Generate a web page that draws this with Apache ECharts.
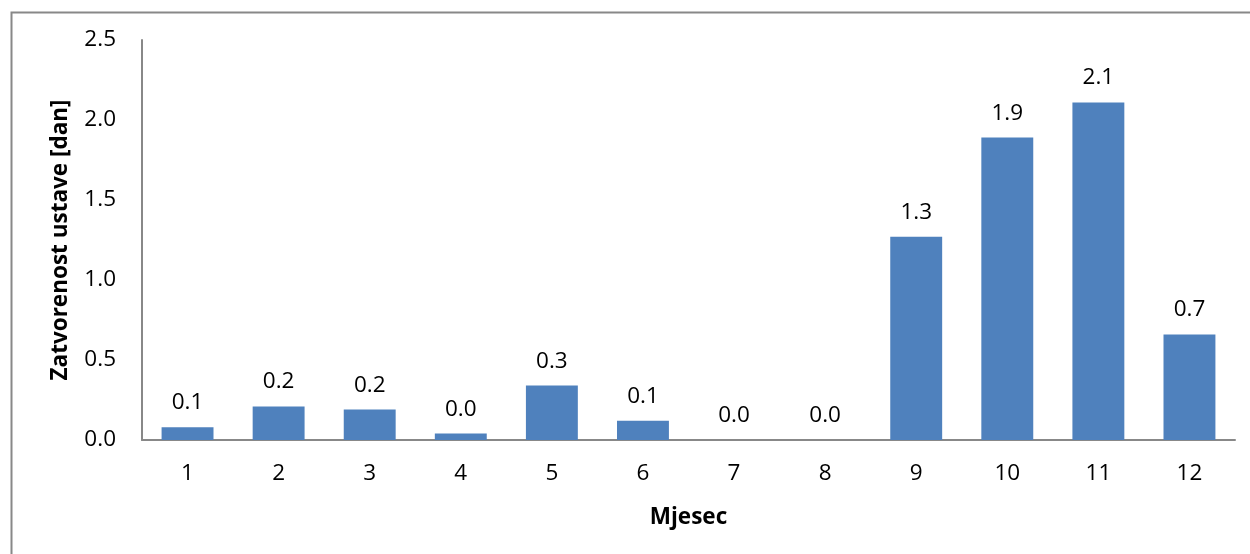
<!DOCTYPE html>
<html>
<head>
<meta charset="utf-8">
<script src="https://cdn.jsdelivr.net/npm/echarts@6/dist/echarts.min.js"></script>
<style>html,body{margin:0;padding:0;background:#fff}#c{width:1250px;height:554px}</style>
</head>
<body>
<div id="c"></div>
<script>
const months = ['1','2','3','4','5','6','7','8','9','10','11','12'];
const closedDays = [0.08, 0.21, 0.19, 0.04, 0.34, 0.12, 0, 0, 1.27, 1.89, 2.11, 0.66];
const yAxisTitle = 'Zatvorenost ustave [dan]';
const xAxisTitle = 'Mjesec';

const FONT = 'Open Sans';
const FS = 22.5;
const chart = echarts.init(document.getElementById('c'), null, {renderer: 'canvas'});
chart.setOption({
  animation: false,
  backgroundColor: '#ffffff',
  graphic: [{
    type: 'rect', left: 9, top: 10, z: -1,
    shape: {width: 1300, height: 600},
    style: {fill: 'none', stroke: '#888888', lineWidth: 2}
  }],
  grid: {left: 142, top: 40, right: 15, bottom: 114},
  xAxis: {
    type: 'category',
    data: months,
    name: xAxisTitle,
    nameLocation: 'middle',
    nameGap: 66,
    nameTextStyle: {fontFamily: FONT, fontSize: FS, fontWeight: 'bold', color: '#000'},
    axisLine: {lineStyle: {color: '#888888', width: 2}},
    axisTick: {show: false},
    axisLabel: {fontFamily: FONT, fontSize: FS, color: '#000', margin: 22}
  },
  yAxis: {
    type: 'value',
    min: 0, max: 2.5, interval: 0.5,
    name: yAxisTitle,
    nameLocation: 'middle',
    nameGap: 70,
    nameRotate: 90,
    nameTextStyle: {fontFamily: FONT, fontSize: FS, fontWeight: 'bold', color: '#000'},
    axisLine: {show: true, lineStyle: {color: '#888888', width: 2}},
    axisTick: {show: false},
    splitLine: {show: false},
    axisLabel: {fontFamily: FONT, fontSize: FS, color: '#000', margin: 26,
      formatter: v => v.toFixed(1)}
  },
  series: [{
    type: 'bar',
    data: closedDays,
    barCategoryGap: '43%',
    itemStyle: {color: '#4F81BD'},
    label: {
      show: true, position: 'top', distance: 13,
      fontFamily: FONT, fontSize: FS, color: '#000',
      formatter: p => p.value.toFixed(1)
    }
  }]
});
</script>
</body>
</html>
